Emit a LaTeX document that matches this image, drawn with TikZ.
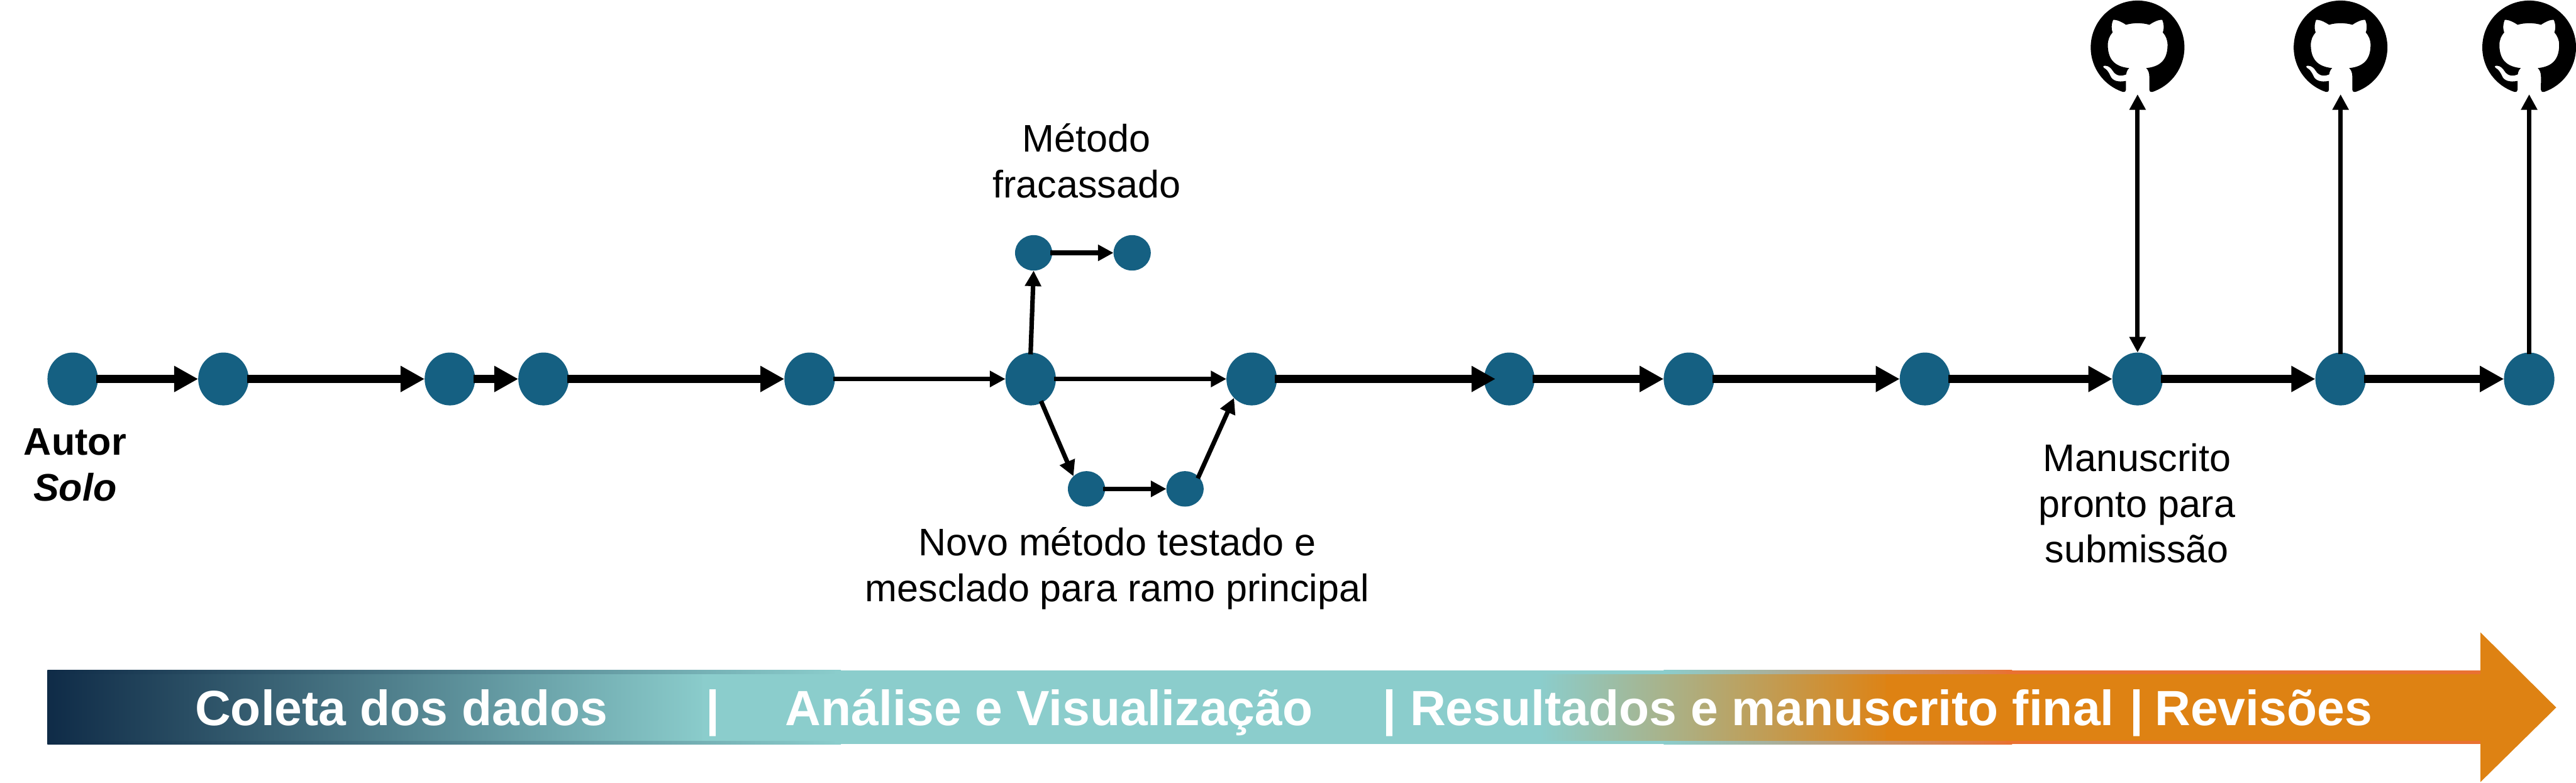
\documentclass[tikz,border=0pt]{standalone}
\usepackage{fontspec}
\setmainfont{Liberation Sans}
\usetikzlibrary{arrows.meta,shapes.geometric,svg.path}
\definecolor{commit}{HTML}{156082}
\definecolor{barnavy}{HTML}{0F2B47}
\definecolor{barteal}{HTML}{8BCDCC}
\definecolor{barorange}{HTML}{DE8213}
\definecolor{barred}{HTML}{E97132}
\tikzset{
  bigcommit/.style={ellipse, fill=commit, minimum width=0.84cm, minimum height=0.88cm, inner sep=0, outer sep=0},
  smallcommit/.style={ellipse, fill=commit, minimum width=0.62cm, minimum height=0.59cm, inner sep=0, outer sep=0},
  gitnode/.style={circle, minimum size=1.56cm, inner sep=0, outer sep=0},
  mainarrow/.style={line width=0.14cm, shorten <=-0.03cm, -{Triangle[length=0.40cm, width=0.41cm]}},
  sidearrow/.style={line width=0.075cm, shorten <=-0.03cm, -{Triangle[length=0.26cm, width=0.26cm]}},
  bothways/.style={line width=0.075cm, {Triangle[length=0.26cm, width=0.26cm]}-{Triangle[length=0.26cm, width=0.26cm]}},
  note/.style={align=center, inner sep=0, font=\fontsize{18.2}{21.6}\selectfont},
  bartext/.style={anchor=base west, inner sep=0, text=white, font=\fontsize{23.45}{26}\selectfont\bfseries},
  gitmark/.pic={\fill[black, xshift=-22.2pt, yshift=22.2pt, xscale=2.775, yscale=-2.775] svg "M 8 0 C 3.58 0 0 3.58 0 8 c 0 3.54 2.29 6.53 5.47 7.59 c 0.4 0.07 0.55 -0.17 0.55 -0.38 c 0 -0.19 -0.01 -0.82 -0.01 -1.49 c -2.01 0.37 -2.53 -0.49 -2.69 -0.94 c -0.09 -0.23 -0.48 -0.94 -0.82 -1.13 c -0.28 -0.15 -0.68 -0.52 -0.01 -0.53 c 0.63 -0.01 1.08 0.58 1.23 0.82 c 0.72 1.21 1.87 0.87 2.33 0.66 c 0.07 -0.52 0.28 -0.87 0.51 -1.07 c -1.78 -0.2 -3.64 -0.89 -3.64 -3.95 c 0 -0.87 0.31 -1.59 0.82 -2.15 c -0.08 -0.2 -0.36 -1.02 0.08 -2.12 c 0 0 0.67 -0.21 2.2 0.82 c 0.64 -0.18 1.32 -0.27 2 -0.27 c 0.68 0 1.36 0.09 2 0.27 c 1.53 -1.04 2.2 -0.82 2.2 -0.82 c 0.44 1.1 0.16 1.92 0.08 2.12 c 0.51 0.56 0.82 1.28 0.82 2.15 c 0 3.07 -1.87 3.75 -3.65 3.95 c 0.29 0.25 0.54 0.73 0.54 1.48 c 0 1.07 -0.01 1.93 -0.01 2.2 c 0 0.21 0.15 0.46 0.55 0.38 A 8.013 8.013 0 0 0 16 8 c 0 -4.42 -3.58 -8 -8 -8 z";}
}

\begin{document}
\begin{tikzpicture}[x=1cm, y=1cm]
\useasboundingbox (0,0) rectangle (42.89,13.03);
% gradient bar: outer strip first, inner band on top of it
\shade[left color=barnavy, right color=barteal] (0.79,0.64) rectangle (14.0,1.87);
\fill[barteal] (13.9,0.64) rectangle (27.8,1.87);
\shade[left color=barteal, right color=barred] (27.7,0.64) rectangle (33.5,1.87);
\fill[barred] (33.4,0.64) rectangle (41.32,1.87);
\shade[left color=barnavy, right color=barteal] (0.79,0.70) rectangle (11.8,1.80);
\fill[barteal] (11.7,0.70) rectangle (25.7,1.80);
\shade[left color=barteal, right color=barorange] (25.64,0.70) rectangle (31.5,1.80);
\fill[barorange] (31.4,0.70) rectangle (41.32,1.80);
\fill[barorange] (41.30,0.01) -- (41.30,2.50) -- (42.56,1.25) -- cycle;
% text on the bar
\node[bartext] (coleta) at (3.24,0.95) {Coleta dos dados};
\node[bartext, anchor=base] (sep1) at (11.87,0.95) {|};
\node[bartext] (analise) at (13.07,0.95) {Análise e Visualização};
\node[bartext, anchor=base] (sep2) at (23.14,0.95) {|};
\node[bartext] (result) at (23.47,0.95) {Resultados e manuscrito final};
\node[bartext, anchor=base] (sep3) at (35.58,0.95) {|};
\node[bartext] (revis) at (35.87,0.95) {Revisões};
% main line of commits
\foreach \n/\x in {n1/1.21,n2/3.72,n3/7.49,n4/9.05,n5/13.48,n6/17.16,n7/20.84,n8/25.13,n9/28.12,n10/32.05,n11/35.59,n12/38.97,n13/42.11}
  \node[bigcommit] (\n) at (\x,6.72) {};
% branches
\node[smallcommit] (s1) at (17.21,8.82) {};
\node[smallcommit] (s2) at (18.85,8.82) {};
\node[smallcommit] (s3) at (18.09,4.89) {};
\node[smallcommit] (s4) at (19.73,4.89) {};
% github marks
\foreach \g/\x in {git1/35.59,git2/38.97,git3/42.11} {
  \node[gitnode] (\g) at (\x,12.24) {};
  \pic at (\g) {gitmark};
}
\foreach \a/\b in {n1/n2,n2/n3,n3/n4,n4/n5,n8/n9,n9/n10,n10/n11,n11/n12,n12/n13}
  \draw[mainarrow] (\a) -- (\b);
\draw[mainarrow, shorten >=-0.19cm] (n7) -- (n8);
\foreach \a/\b in {n5/n6,n6/n7,n6.north/s1.south,s1/s2,n6.295/s3.136,s3/s4,s4.42/n7.227,n12.north/git2.south,n13.north/git3.south}
  \draw[sidearrow] (\a) -- (\b);
\draw[bothways] (n11.north) -- (git1.south);
% labels
\node[note, font=\fontsize{18.2}{21.6}\selectfont\bfseries] (autor) at (1.25,5.29) {Autor\\\textit{Solo}};
\node[note] (fail) at (18.09,10.35) {Método\\fracassado};
\node[note] (novo) at (18.60,3.565) {Novo método testado e\\mesclado para ramo principal};
\node[note] (manus) at (35.58,4.65) {Manuscrito\\pronto para\\submissão};
\end{tikzpicture}
\end{document}
